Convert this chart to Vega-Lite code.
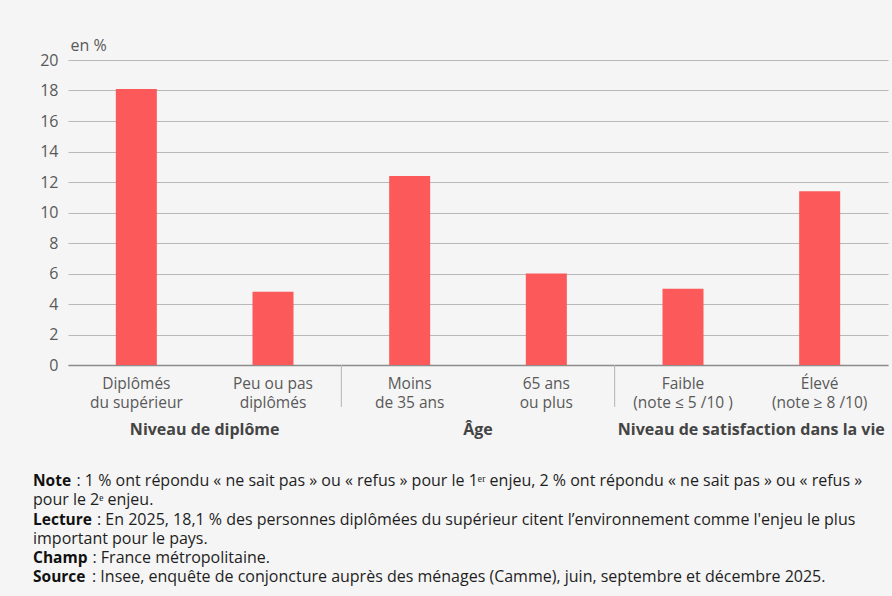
{
  "$schema": "https://vega.github.io/schema/vega-lite/v6.json",
  "width": 820,
  "height": 305,
  "autosize": {"type": "none"},
  "padding": {"left": 68, "top": 60, "right": 4, "bottom": 231},
  "background": "#f5f5f5",
  "config": {
    "view": {"stroke": null},
    "font": "Open Sans",
    "text": {"font": "Open Sans"}
  },
  "resolve": {"scale": {"y": "independent"}, "axis": {"y": "independent"}},
  "datasets": {
    "bars": [
      {"cat": "Diplômés|du supérieur", "group": "Niveau de diplôme", "value": 18.1},
      {"cat": "Peu ou pas|diplômés", "group": "Niveau de diplôme", "value": 4.8},
      {"cat": "Moins|de 35 ans", "group": "Âge", "value": 12.4},
      {"cat": "65 ans|ou plus", "group": "Âge", "value": 6.0},
      {"cat": "Faible|(note ≤ 5 /10 )", "group": "Niveau de satisfaction dans la vie", "value": 5.0},
      {"cat": "Élevé|(note ≥ 8 /10)", "group": "Niveau de satisfaction dans la vie", "value": 11.4}
    ],
    "separators": [
      {"cat": "Moins|de 35 ans"},
      {"cat": "Faible|(note ≤ 5 /10 )"}
    ],
    "groups": [
      {"cat": "Diplômés|du supérieur", "group": "Niveau de diplôme"},
      {"cat": "Moins|de 35 ans", "group": "Âge"},
      {"cat": "Faible|(note ≤ 5 /10 )", "group": "Niveau de satisfaction dans la vie"}
    ]
  },
  "layer": [
    {
      "data": {"name": "bars"},
      "mark": {"type": "bar", "color": "#fc5a5a", "width": {"band": 0.3}},
      "encoding": {
        "x": {
          "field": "cat", "type": "nominal", "sort": null,
          "scale": {"type": "band", "paddingInner": 0, "paddingOuter": 0, "domain": ["Diplômés|du supérieur", "Peu ou pas|diplômés", "Moins|de 35 ans", "65 ans|ou plus", "Faible|(note ≤ 5 /10 )", "Élevé|(note ≥ 8 /10)"]},
          "axis": {
            "title": null, "labelAngle": 0, "ticks": false, "grid": false,
            "domainColor": "#8c8c8c", "domainWidth": 1.5,
            "labelExpr": "split(datum.value, '|')",
            "labelFont": "Open Sans", "labelFontSize": 15.5, "labelColor": "#595959",
            "labelLineHeight": 19, "labelPadding": 11, "labelOverlap": false
          }
        },
        "y": {
          "field": "value", "type": "quantitative",
          "scale": {"domain": [0, 20], "nice": false},
          "axis": {
            "values": [0, 2, 4, 6, 8, 10, 12, 14, 16, 18, 20],
            "labelOverlap": false,
            "domain": false, "ticks": false, "grid": true,
            "gridColor": "#b8b8b8", "gridWidth": 1.2,
            "labelFont": "Open Sans", "labelFontSize": 16, "labelColor": "#595959", "labelPadding": 10,
            "title": "en %", "titleAngle": 0, "titleAlign": "left", "titleBaseline": "alphabetic",
            "titleX": 2, "titleY": -10, "titleFont": "Open Sans", "titleFontSize": 16,
            "titleFontWeight": "normal", "titleColor": "#595959"
          }
        }
      }
    },
    {
      "data": {"name": "separators"},
      "mark": {"type": "rule", "color": "#b4b4b4", "strokeWidth": 1},
      "encoding": {
        "x": {"field": "cat", "type": "nominal", "bandPosition": 0, "sort": null,
              "scale": {"domain": ["Diplômés|du supérieur", "Peu ou pas|diplômés", "Moins|de 35 ans", "65 ans|ou plus", "Faible|(note ≤ 5 /10 )", "Élevé|(note ≥ 8 /10)"]}},
        "y": {"datum": 0, "scale": {"domain": [0, 20], "nice": false}, "axis": null},
        "y2": {"datum": -2.75}
      }
    },
    {
      "data": {"name": "groups"},
      "mark": {"type": "text", "font": "Open Sans", "fontSize": 16, "fontWeight": "bold", "color": "#444444", "baseline": "alphabetic", "align": "center"},
      "encoding": {
        "x": {"field": "cat", "type": "nominal", "bandPosition": 1, "sort": null,
              "scale": {"domain": ["Diplômés|du supérieur", "Peu ou pas|diplômés", "Moins|de 35 ans", "65 ans|ou plus", "Faible|(note ≤ 5 /10 )", "Élevé|(note ≥ 8 /10)"]}},
        "y": {"datum": -4.6, "scale": {"domain": [0, 20], "nice": false}, "axis": null},
        "text": {"field": "group"}
      }
    },
    {
      "data": {"values": [{"t": "Note"}]},
      "mark": {"type": "text", "font": "Open Sans", "fontSize": 15.5, "fontWeight": "bold", "color": "#111111", "align": "left", "baseline": "alphabetic", "dx": -35},
      "encoding": {"x": {"datum": "Diplômés|du supérieur", "bandPosition": 0}, "y": {"datum": -7.934, "scale": {"domain": [0, 20], "nice": false}, "axis": null}, "text": {"field": "t"}}
    },
    {
      "data": {"values": [{"t": ": 1 % ont répondu « ne sait pas » ou « refus » pour le 1ᵉʳ enjeu, 2 % ont répondu « ne sait pas » ou « refus »"}]},
      "mark": {"type": "text", "font": "Open Sans", "fontSize": 16, "color": "#1e1e1e", "align": "left", "baseline": "alphabetic", "dx": 8.5},
      "encoding": {"x": {"datum": "Diplômés|du supérieur", "bandPosition": 0}, "y": {"datum": -7.934, "scale": {"domain": [0, 20], "nice": false}, "axis": null}, "text": {"field": "t"}}
    },
    {
      "data": {"values": [{"t": "pour le 2ᵉ enjeu."}]},
      "mark": {"type": "text", "font": "Open Sans", "fontSize": 16, "color": "#1e1e1e", "align": "left", "baseline": "alphabetic", "dx": -35},
      "encoding": {"x": {"datum": "Diplômés|du supérieur", "bandPosition": 0}, "y": {"datum": -9.213, "scale": {"domain": [0, 20], "nice": false}, "axis": null}, "text": {"field": "t"}}
    },
    {
      "data": {"values": [{"t": "Lecture"}]},
      "mark": {"type": "text", "font": "Open Sans", "fontSize": 15.5, "fontWeight": "bold", "color": "#111111", "align": "left", "baseline": "alphabetic", "dx": -35},
      "encoding": {"x": {"datum": "Diplômés|du supérieur", "bandPosition": 0}, "y": {"datum": -10.49, "scale": {"domain": [0, 20], "nice": false}, "axis": null}, "text": {"field": "t"}}
    },
    {
      "data": {"values": [{"t": ": En 2025, 18,1 % des personnes diplômées du supérieur citent l’environnement comme l'enjeu le plus"}]},
      "mark": {"type": "text", "font": "Open Sans", "fontSize": 16, "color": "#1e1e1e", "align": "left", "baseline": "alphabetic", "dx": 29},
      "encoding": {"x": {"datum": "Diplômés|du supérieur", "bandPosition": 0}, "y": {"datum": -10.49, "scale": {"domain": [0, 20], "nice": false}, "axis": null}, "text": {"field": "t"}}
    },
    {
      "data": {"values": [{"t": "important pour le pays."}]},
      "mark": {"type": "text", "font": "Open Sans", "fontSize": 16, "color": "#1e1e1e", "align": "left", "baseline": "alphabetic", "dx": -35},
      "encoding": {"x": {"datum": "Diplômés|du supérieur", "bandPosition": 0}, "y": {"datum": -11.738, "scale": {"domain": [0, 20], "nice": false}, "axis": null}, "text": {"field": "t"}}
    },
    {
      "data": {"values": [{"t": "Champ"}]},
      "mark": {"type": "text", "font": "Open Sans", "fontSize": 15.5, "fontWeight": "bold", "color": "#111111", "align": "left", "baseline": "alphabetic", "dx": -35},
      "encoding": {"x": {"datum": "Diplômés|du supérieur", "bandPosition": 0}, "y": {"datum": -13.016, "scale": {"domain": [0, 20], "nice": false}, "axis": null}, "text": {"field": "t"}}
    },
    {
      "data": {"values": [{"t": ": France métropolitaine."}]},
      "mark": {"type": "text", "font": "Open Sans", "fontSize": 16, "color": "#1e1e1e", "align": "left", "baseline": "alphabetic", "dx": 24.5},
      "encoding": {"x": {"datum": "Diplômés|du supérieur", "bandPosition": 0}, "y": {"datum": -13.016, "scale": {"domain": [0, 20], "nice": false}, "axis": null}, "text": {"field": "t"}}
    },
    {
      "data": {"values": [{"t": "Source"}]},
      "mark": {"type": "text", "font": "Open Sans", "fontSize": 15.5, "fontWeight": "bold", "color": "#111111", "align": "left", "baseline": "alphabetic", "dx": -35},
      "encoding": {"x": {"datum": "Diplômés|du supérieur", "bandPosition": 0}, "y": {"datum": -14.262, "scale": {"domain": [0, 20], "nice": false}, "axis": null}, "text": {"field": "t"}}
    },
    {
      "data": {"values": [{"t": ": Insee, enquête de conjoncture auprès des ménages (Camme), juin, septembre et décembre 2025."}]},
      "mark": {"type": "text", "font": "Open Sans", "fontSize": 16, "color": "#1e1e1e", "align": "left", "baseline": "alphabetic", "dx": 24},
      "encoding": {"x": {"datum": "Diplômés|du supérieur", "bandPosition": 0}, "y": {"datum": -14.262, "scale": {"domain": [0, 20], "nice": false}, "axis": null}, "text": {"field": "t"}}
    }
  ]
}
